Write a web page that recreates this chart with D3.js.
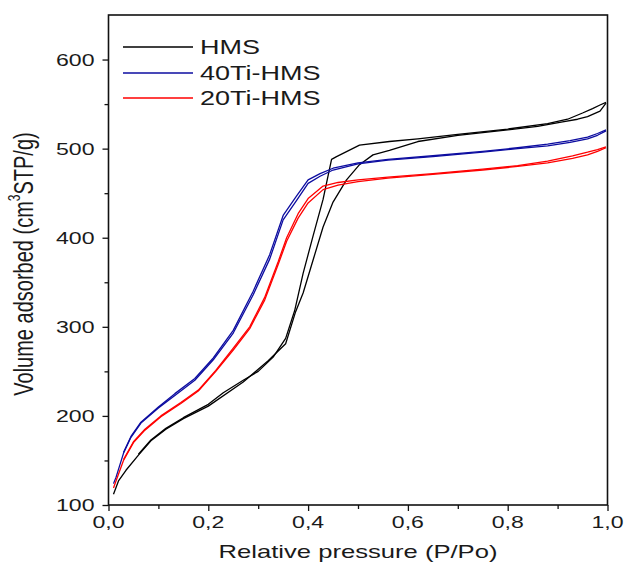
<!DOCTYPE html>
<html>
<head>
<meta charset="utf-8">
<script src="https://cdn.jsdelivr.net/npm/d3@7"></script>
<style>
  html, body { margin: 0; padding: 0; background: #fff; }
  text { font-family: "Liberation Sans", Arial, sans-serif; fill: #1a1a1a; }
</style>
</head>
<body>
<svg id="chart" width="628" height="568"></svg>
<script>
// ---- data ----
const seriesNames = ["HMS", "40Ti-HMS", "20Ti-HMS"];
const seriesColors = ["#000000", "#0c0ca0", "#ff0000"];

const xTicks = [0, 0.2, 0.4, 0.6, 0.8, 1.0];
const xTickLabels = ["0,0", "0,2", "0,4", "0,6", "0,8", "1,0"];
const yTicks = [100, 200, 300, 400, 500, 600];
const yTickLabels = ["100", "200", "300", "400", "500", "600"];

// HMS
const hmsAdsP = [0.01,0.02,0.035,0.06,0.085,0.115,0.15,0.2,0.27,0.32,0.355,0.375,0.39,0.41,0.43,0.45,0.477,0.503,0.53,0.563,0.62,0.7,0.8,0.86,0.91,0.94,0.96,0.985,0.997];
const hmsAdsV = [112,127,139,156,172,185,197,211,238,262,281,317,338,375,412,440,465,482,493,498,508,515,521,525,530,533,536,542,551];
const hmsDesP = [0.997,0.985,0.97,0.95,0.92,0.88,0.8,0.7,0.62,0.563,0.503,0.457,0.447,0.43,0.41,0.39,0.373,0.355,0.33,0.3,0.27,0.23,0.2,0.15,0.115,0.085,0.06];
const hmsDesV = [552,549,545,540,533,528,522,516,511,508,504,491,488,443,402,360,318,287,266,250,240,226,213,198,186,173,157];

// 40Ti-HMS
const tiAAdsP = [0.01,0.015,0.03,0.045,0.065,0.1,0.133,0.173,0.21,0.25,0.29,0.323,0.35,0.377,0.4,0.424,0.45,0.5,0.56,0.65,0.75,0.82,0.88,0.925,0.96,0.98,0.997];
const tiAAdsV = [124,131,158,176,192,209,223,240,263,293,336,376,420,442,461,469,476,483,487,491,496,500,503,507,511,515,520];
const tiADesP = [0.997,0.98,0.96,0.925,0.88,0.82,0.75,0.65,0.56,0.5,0.45,0.424,0.4,0.377,0.35,0.323,0.29,0.25,0.21,0.173,0.133,0.1,0.065,0.045,0.03];
const tiADesV = [521,517,513,509,505,501,497,492,488,484,478,472,465,447,425,381,340,296,265,242,225,210,193,177,159];

// 20Ti-HMS
const tiBAdsP = [0.01,0.015,0.03,0.05,0.073,0.105,0.145,0.18,0.215,0.25,0.283,0.313,0.34,0.357,0.38,0.4,0.43,0.46,0.5,0.56,0.65,0.75,0.82,0.88,0.93,0.96,0.98,0.997];
const tiBAdsV = [119,127,150,170,184,199,214,228,250,274,298,330,370,396,422,439,454,459,463,467,471,476,480,484,489,493,497,501];
const tiBDesP = [0.997,0.98,0.96,0.93,0.88,0.82,0.75,0.65,0.56,0.5,0.46,0.43,0.4,0.38,0.357,0.34,0.313,0.283,0.25,0.215,0.18,0.145,0.105,0.073,0.05,0.03];
const tiBDesV = [502,499,496,492,486,481,477,472,468,465,462,458,444,427,400,373,333,300,276,251,229,215,200,185,171,151];

// ---- layout ----
const L = 108.5, R = 607.5, T = 15, B = 505;
const SX = 1.4; // horizontal stretch of the reference text

const svg = d3.select("#chart");
const x = d3.scaleLinear().domain([0, 1]).range([L, R]);
const y = d3.scaleLinear().domain([100, 650]).range([B, T]);

function stext(g, px, py, str, size, anchor, rot) {
  return g.append("text")
    .attr("transform", `translate(${px},${py}) scale(${SX},1)` + (rot ? ` rotate(${rot})` : ""))
    .attr("font-size", size)
    .attr("text-anchor", anchor || "start")
    .text(str);
}

// curves
const line = d3.line().x(d => x(d[0])).y(d => y(d[1])).curve(d3.curveLinear);
const curves = [
  [hmsAdsP, hmsAdsV, 0], [hmsDesP, hmsDesV, 0],
  [tiAAdsP, tiAAdsV, 1], [tiADesP, tiADesV, 1],
  [tiBAdsP, tiBAdsV, 2], [tiBDesP, tiBDesV, 2]
];
const plot = svg.append("g");
curves.forEach(([P, V, k]) => {
  plot.append("path")
    .attr("d", line(P.map((p, i) => [p, V[i]])))
    .attr("fill", "none")
    .attr("stroke", seriesColors[k])
    .attr("stroke-width", 1.3)
    .attr("stroke-linejoin", "round");
});

// axes
const xAxis = d3.axisBottom(x).tickValues(d3.range(0, 1.0001, 0.1)).tickSize(6).tickFormat("");
const yAxis = d3.axisLeft(y).tickValues(d3.range(100, 601, 50)).tickSize(6).tickFormat("");
const gx = svg.append("g").attr("transform", `translate(0,${B})`).call(xAxis);
const gy = svg.append("g").attr("transform", `translate(${L},0)`).call(yAxis);
[gx, gy].forEach(g => {
  g.select(".domain").remove();
  g.selectAll(".tick line").attr("stroke", "#111").attr("stroke-width", 1.3);
});
gx.selectAll(".tick").filter((d, i) => i % 2 === 1).select("line").attr("y2", 4);
gy.selectAll(".tick").filter((d, i) => i % 2 === 1).select("line").attr("x2", -4);

// frame
svg.append("rect").attr("x", L).attr("y", T).attr("width", R - L).attr("height", B - T)
  .attr("fill", "none").attr("stroke", "#111").attr("stroke-width", 1.6);

// tick labels
const lab = svg.append("g");
xTicks.forEach((v, i) => stext(lab, x(v), B + 23, xTickLabels[i], 16.5, "middle"));
yTicks.forEach((v, i) => stext(lab, L - 14, y(v) + 6, yTickLabels[i], 16.5, "end"));

// axis titles
stext(lab, 358, 558, "Relative pressure (P/Po)", 18.3, "middle");
const yt = stext(lab, 33, 264, "", 20, "middle", -90);
yt.append("tspan").text("Volume adsorbed (cm");
yt.append("tspan").attr("font-size", 12).attr("dy", -9).text("3");
yt.append("tspan").attr("dy", 9).text("STP/g)");

// legend
const legY = [47, 73, 98];
seriesNames.forEach((n, i) => {
  svg.append("line").attr("x1", 123).attr("x2", 193).attr("y1", legY[i]).attr("y2", legY[i])
    .attr("stroke", seriesColors[i]).attr("stroke-width", 1.5);
  stext(lab, 200, legY[i] + 7, n, 19.3, "start");
});
</script>
</body>
</html>
